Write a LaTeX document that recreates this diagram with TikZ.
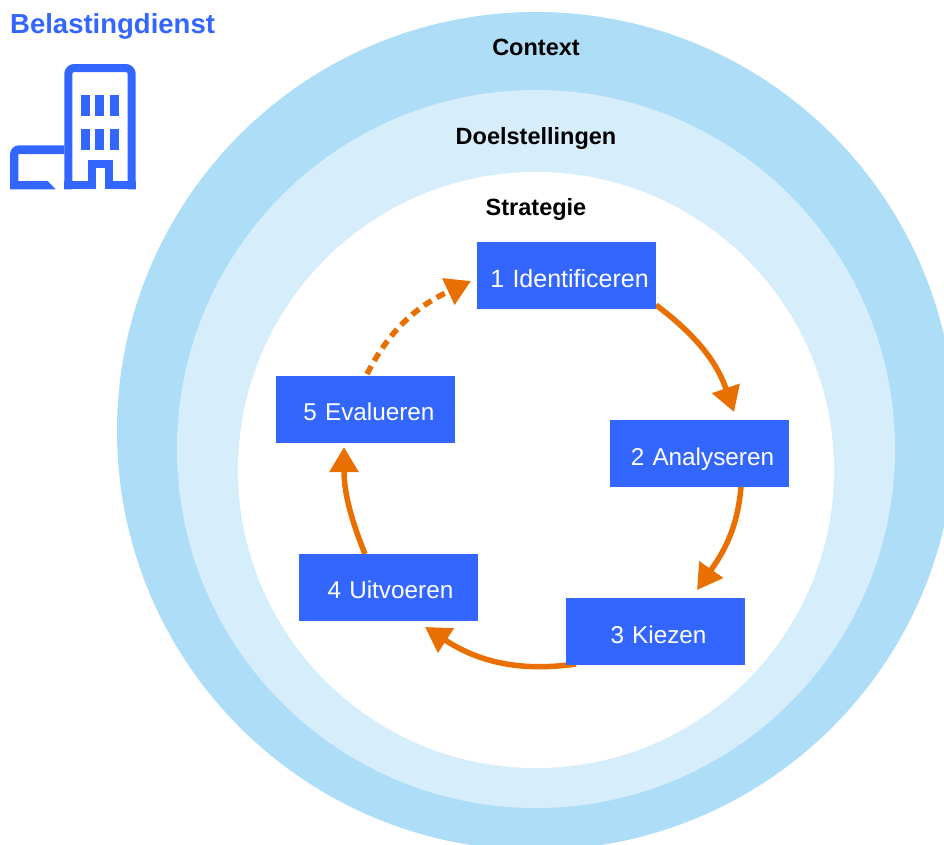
\documentclass[tikz,border=0pt]{standalone}
\usepackage{fontspec}
\setmainfont{Liberation Sans}
\usetikzlibrary{arrows.meta,backgrounds,calc}
\definecolor{ringouter}{HTML}{AEDDF8}
\definecolor{ringmiddle}{HTML}{D6EDFB}
\definecolor{brandblue}{HTML}{3366FF}
\definecolor{flow}{HTML}{E97000}
\tikzset{
  stepbox/.style={fill=brandblue,text=white,inner sep=0pt,outer sep=0pt,text width=179pt,align=center,
    text height=45pt,text depth=22pt,font=\fontsize{24.3}{25}\selectfont},
  ringtitle/.style={anchor=base,inner sep=0pt,font=\fontsize{23.5}{24}\selectfont\bfseries},
  flowarrow/.style={draw=flow,line width=5.5pt,-{Triangle[length=25pt,width=28pt]}},
  icon/.style={fill=brandblue,draw=none},
  iconline/.style={draw=brandblue,line width=8pt,miter limit=10}
}
\begin{document}
\begin{tikzpicture}[x=1pt,y=-1pt]
\useasboundingbox (0,0) rectangle (944,844);
\begin{scope}[on background layer]
  \clip (0,0) rectangle (944,844);
  \fill[ringouter] (536,431) circle[radius=419pt];
  \fill[ringmiddle] (536,449) circle[radius=359pt];
  \fill[white] (536,470) circle[radius=298pt];
\end{scope}

\node[anchor=base west,inner sep=0pt,text=brandblue,font=\fontsize{27.5}{28}\selectfont\bfseries] (brand) at (10,33) {Belastingdienst};

% icon
\draw[iconline,rounded corners=6pt] (68.3,189.3) -- (68.3,68) -- (131.7,68) -- (131.7,189.3);
\draw[iconline] (64.3,185.3) -- (91.8,185.3) -- (91.8,164) -- (108.6,164) -- (108.6,185.3) -- (135.7,185.3);
\fill[icon] (64.3,145.3) -- (19,145.3) to[out=180,in=90] (10,154.3) -- (10,189.3) -- (55.7,189.3) -- (47.7,181) -- (18.3,181) -- (18.3,154) -- (64.3,154) -- cycle;
\foreach \wx in {81,95,110} \foreach \wy in {95,129} {
  \fill[icon] (\wx,\wy) rectangle ++(9.2,21);
}

\node[ringtitle] (context) at (536,55) {Context};
\node[ringtitle] (doel) at (536,144) {Doelstellingen};
\node[ringtitle] (strategie) at (536,215) {Strategie};

\node[stepbox,font=\fontsize{25}{25}\selectfont] (n1) at (566.5,275.5) {\hspace*{6pt}1 Identificeren};
\node[stepbox] (n2) at (699.5,453.5) {\hspace*{6pt}2 Analyseren};
\node[stepbox] (n3) at (655.5,631.5) {\hspace*{6pt}3 Kiezen};
\node[stepbox,text height=44pt,text depth=23pt] (n4) at (388.5,587.5) {\hspace*{4pt}4 Uitvoeren};
\node[stepbox,text height=44pt,text depth=23pt] (n5) at (365.5,409.5) {\hspace*{7pt}5 Evalueren};

\begin{scope}[on background layer]
  \draw[flowarrow] ([yshift=4pt]n1.south east) to[out=-37,in=109] ([xshift=-55pt,yshift=8pt]n2.north east);
  \draw[flowarrow] ([xshift=-48pt]n2.south east) to[out=-94.8,in=55] ([xshift=-48pt,yshift=8pt]n3.north east);
  \draw[flowarrow] ([xshift=10pt,yshift=1pt]n3.south west) to[out=-172,in=-33] ([xshift=-53pt,yshift=-6pt]n4.south east);
  \draw[flowarrow] ([xshift=66pt]n4.north west) to[out=112,in=-90] ([xshift=68pt,yshift=-4pt]n5.south west);
  \draw[flowarrow,dash pattern=on 9pt off 6pt] ([xshift=91pt,yshift=2pt]n5.north west) to[out=63,in=205] ([xshift=-6pt,yshift=28pt]n1.south west);
\end{scope}
\end{tikzpicture}
\end{document}
